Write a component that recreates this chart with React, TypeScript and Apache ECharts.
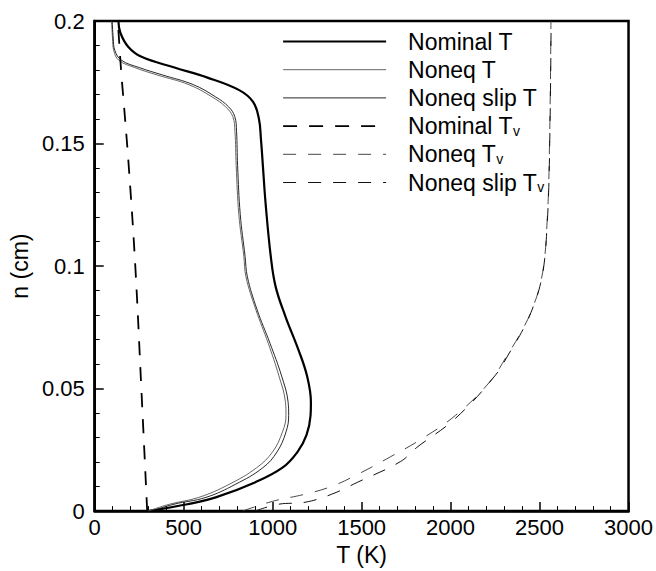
import React, { useEffect, useRef } from "react";
import * as echarts from "echarts";

// T (K) values and n (cm) positions
const nominalT_T = [300, 520, 680, 900, 1055, 1140, 1190, 1213, 1215, 1193, 1144, 1072, 1017, 990, 961, 945, 934, 923, 890, 812, 630, 448, 260, 188, 144, 133];
const nominalT_n = [0, 0.0028, 0.0056, 0.0117, 0.0177, 0.0242, 0.031, 0.039, 0.0444, 0.0552, 0.066, 0.0794, 0.0915, 0.1036, 0.125, 0.141, 0.152, 0.16, 0.167, 0.1718, 0.177, 0.181, 0.1855, 0.1895, 0.1952, 0.2];

const noneqT_T = [300, 420, 585, 755, 910, 1000, 1055, 1075, 1072, 1035, 975, 905, 850, 838, 810, 795, 788, 776, 735, 660, 530, 350, 225, 135, 107, 100, 95];
const noneqT_n = [0, 0.0028, 0.0056, 0.0109, 0.0177, 0.0242, 0.0323, 0.039, 0.0444, 0.0552, 0.0685, 0.0823, 0.0956, 0.104, 0.121, 0.141, 0.155, 0.161, 0.165, 0.169, 0.174, 0.178, 0.181, 0.184, 0.188, 0.193, 0.2];

const slipT_T = [320, 445, 625, 790, 945, 1025, 1075, 1090, 1087, 1050, 985, 912, 858, 845, 818, 803, 797, 787, 752, 680, 555, 380, 250, 150, 113, 104, 98];
const slipT_n = noneqT_n;

const nominalTv_T = [295, 262, 228, 192, 165, 148, 130];
const nominalTv_n = [0, 0.05, 0.1, 0.14, 0.165, 0.18, 0.2];

const noneqTv_T = [830, 1000, 1182, 1332, 1475, 1663, 1845, 2028, 2216, 2326, 2414, 2470, 2505, 2528, 2540, 2550, 2556, 2561, 2564];
const noneqTv_n = [0, 0.004, 0.0069, 0.0101, 0.0149, 0.0222, 0.0298, 0.0391, 0.0524, 0.0645, 0.0754, 0.0847, 0.093, 0.103, 0.115, 0.13, 0.15, 0.175, 0.2];

const slipTv_T = [900, 1033, 1182, 1332, 1475, 1718, 1807, 2028, 2249, 2330, 2416, 2471, 2506, 2529, 2541, 2551, 2557, 2562, 2565];
const slipTv_n = [0, 0.0028, 0.0036, 0.0069, 0.0117, 0.0202, 0.0258, 0.0379, 0.0552, 0.0645, 0.0754, 0.0847, 0.093, 0.103, 0.115, 0.13, 0.15, 0.175, 0.2];

const seriesNames = ["Nominal T", "Noneq T", "Noneq slip T", "Nominal Tv", "Noneq Tv", "Noneq slip Tv"];

const FONT = "'Liberation Sans', Arial, Helvetica, sans-serif";

function pairs(xs: number[], ys: number[]) {
  return xs.map((x, i) => [x, ys[i]]);
}

export default function App() {
  const ref = useRef<HTMLDivElement>(null);
  useEffect(() => {
    if (!ref.current) return;
    const chart = echarts.init(ref.current, undefined, { renderer: "svg" });
    const styles: any[] = [
      { width: 2.2, type: "solid", color: "#000" },
      { width: 0.9, type: "solid", color: "#555" },
      { width: 0.9, type: "solid", color: "#111" },
      { width: 1.8, type: [14, 12], color: "#000" },
      { width: 0.9, type: [13, 12], color: "#333" },
      { width: 1.0, type: [13, 12], color: "#111" },
    ];
    const datasets = [
      pairs(nominalT_T, nominalT_n),
      pairs(noneqT_T, noneqT_n),
      pairs(slipT_T, slipT_n),
      pairs(nominalTv_T, nominalTv_n),
      pairs(noneqTv_T, noneqTv_n),
      pairs(slipTv_T, slipTv_n),
    ];
    chart.setOption({
      animation: false,
      backgroundColor: "#fff",
      grid: {
        left: 86,
        right: 27,
        top: 21,
        bottom: 54,
        show: true,
        borderColor: "#000",
        borderWidth: 2.5,
        backgroundColor: "transparent",
      },
      legend: {
        orient: "vertical",
        left: 277,
        top: 25,
        itemWidth: 103,
        itemHeight: 14,
        itemGap: 5.2,
        data: seriesNames.map((name, i) => ({
          name,
          lineStyle: { width: styles[i].width, color: styles[i].color, type: styles[i].type },
        })),
        itemStyle: { opacity: 0, borderWidth: 0 },
        formatter: (name: string) =>
          name.endsWith("Tv") ? "{m|" + name.slice(0, -1) + "}{s|v}" : "{m|" + name + "}",
        textStyle: {
          padding: [0, 0, 0, 17],
          rich: {
            m: { fontSize: 23, lineHeight: 23, fontFamily: FONT, color: "#000" },
            s: { fontSize: 14, lineHeight: 14, verticalAlign: "bottom", fontFamily: FONT, color: "#000" },
          },
        },
      },
      xAxis: {
        type: "value",
        min: 0,
        max: 3000,
        interval: 500,
        name: "T (K)",
        nameLocation: "middle",
        nameGap: 27,
        nameTextStyle: { fontSize: 23, color: "#000", fontFamily: FONT },
        axisLine: { show: true, lineStyle: { color: "#000", width: 2.5 } },
        axisTick: { show: true, inside: true, length: 9, lineStyle: { color: "#000", width: 1.5 } },
        minorTick: { show: true, splitNumber: 5, length: 5, lineStyle: { color: "#000", width: 1 } },
        axisLabel: { fontSize: 22, color: "#000", fontFamily: FONT, margin: 5, formatter: (v: number) => String(v) },
        splitLine: { show: false },
        minorSplitLine: { show: false },
      },
      yAxis: {
        type: "value",
        min: 0,
        max: 0.2,
        interval: 0.05,
        name: "n (cm)",
        nameLocation: "middle",
        nameGap: 56,
        nameTextStyle: { fontSize: 23, color: "#000", fontFamily: FONT },
        axisLine: { show: true, lineStyle: { color: "#000", width: 2.5 } },
        axisTick: { show: true, inside: true, length: 9, lineStyle: { color: "#000", width: 1.5 } },
        minorTick: { show: true, splitNumber: 5, length: 5, lineStyle: { color: "#000", width: 1 } },
        axisLabel: { fontSize: 22, color: "#000", fontFamily: FONT, margin: 10 },
        splitLine: { show: false },
        minorSplitLine: { show: false },
      },
      series: seriesNames.map((name, i) => ({
        name,
        type: "line",
        data: datasets[i],
        symbol: "none",
        showSymbol: false,
        smooth: 0.4,
        lineStyle: styles[i],
        itemStyle: { color: styles[i].color },
        z: 3,
      })),
    });
    return () => chart.dispose();
  }, []);
  return <div ref={ref} style={{ position: "absolute", left: 0, top: 0, width: 656, height: 571 }} />;
}
